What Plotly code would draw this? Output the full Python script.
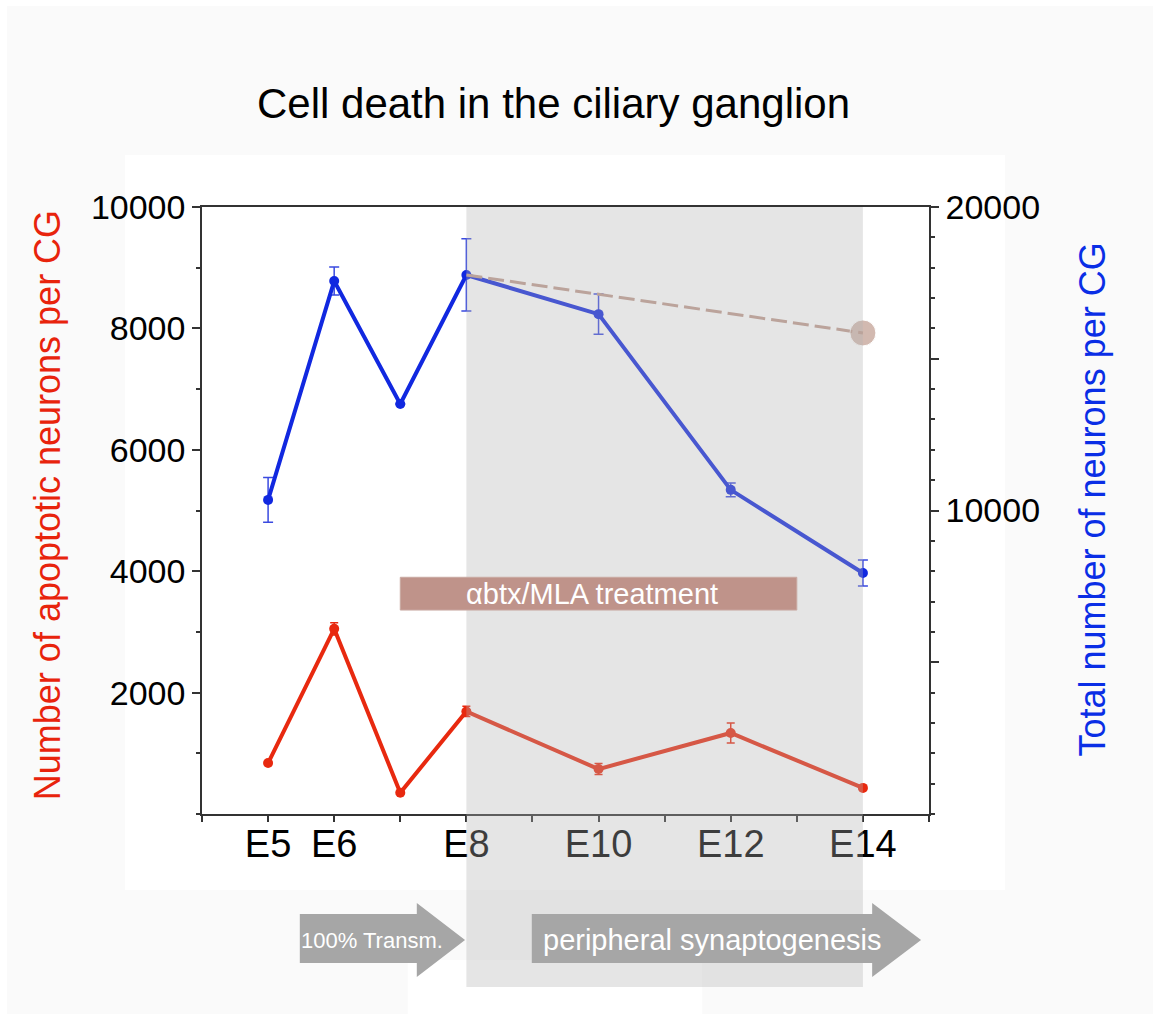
import plotly.graph_objects as go

# ---------------- data ----------------
days = [5, 6, 7, 8, 10, 12, 14]
apoptotic = [840, 3050, 350, 1690, 740, 1335, 430]
apoptotic_err = [0, 100, 0, 85, 90, 165, 0]
total_neurons = [10350, 17560, 13510, 17760, 16470, 10680, 7940]
total_err = [740, 460, 0, 1190, 660, 230, 430]
proj_days = [8, 14]
proj_total = [17760, 15850]

xtick_vals = [5, 6, 8, 10, 12, 14]
xtick_text = ["E5", "E6", "E8", "E10", "E12", "E14"]
y_left_ticks = [2000, 4000, 6000, 8000, 10000]
y_left_text = ["2000", "4000", "6000", "8000", "10000"]
y_right_ticks = [5000, 10000, 15000, 20000]
y_right_text = ["", "10000", "", "20000"]

treat_start, treat_end = 7, 13
treat_low, treat_high = 3360, 3900
shade_start, shade_end = 8, 14

FONT = "Liberation Sans, Arial, Helvetica, sans-serif"
RED = "#e8290f"
BLUE = "#1128e0"
BROWN = "#bf9c8f"
AX = "#333333"

fig = go.Figure()

fig.add_trace(go.Scatter(
    x=days, y=apoptotic, mode="lines+markers", yaxis="y",
    line=dict(color=RED, width=4), marker=dict(color=RED, size=10),
    error_y=dict(type="data", array=apoptotic_err, color=RED, thickness=1.5, width=4),
    showlegend=False))

fig.add_trace(go.Scatter(
    x=days, y=total_neurons, mode="lines+markers", yaxis="y2",
    line=dict(color=BLUE, width=4), marker=dict(color=BLUE, size=10),
    error_y=dict(type="data", array=total_err, color="#3a4ae0", thickness=1.5, width=5),
    showlegend=False))

fig.add_trace(go.Scatter(
    x=proj_days, y=proj_total, mode="lines+markers", yaxis="y2",
    line=dict(color=BROWN, width=3, dash="16px,6px"),
    marker=dict(color=BROWN, size=[0, 26]),
    showlegend=False))

shapes = [
    # white page border strips
    dict(type="rect", xref="paper", yref="paper", x0=-0.30, x1=-0.268, y0=-0.4, y1=1.4,
         fillcolor="white", line_width=0, layer="below"),
    dict(type="rect", xref="paper", yref="paper", x0=-0.30, x1=1.4, y0=1.331, y1=1.4,
         fillcolor="white", line_width=0, layer="below"),
    # white panel behind chart
    dict(type="rect", xref="paper", yref="paper", x0=-0.106, x1=1.1045, y0=-0.125, y1=1.0857,
         fillcolor="white", line_width=0, layer="below"),
    dict(type="rect", xref="paper", yref="paper", x0=0.283, x1=0.688, y0=-0.34, y1=-0.2405,
         fillcolor="white", line_width=0, layer="below"),
    # grey shaded period (drawn on top, translucent)
    dict(type="rect", xref="x", yref="paper", x0=shade_start, x1=shade_end, y0=-0.285, y1=1.0,
         fillcolor="rgba(178,178,178,0.34)", line_width=0, layer="above"),
    # treatment bar
    dict(type="rect", xref="x", yref="y", x0=treat_start, x1=treat_end, y0=treat_low, y1=treat_high,
         fillcolor="#bf938a", line=dict(color="#c9a9a2", width=1), layer="above"),
    # arrows
    dict(type="path", xref="x", yref="paper", layer="above", fillcolor="#a6a6a6", line_width=0,
         path="M 5.48,-0.1647 L 7.25,-0.1647 L 7.25,-0.1466 L 7.98,-0.2076 L 7.25,-0.2685 "
              "L 7.25,-0.2455 L 5.48,-0.2455 Z"),
    dict(type="path", xref="x", yref="paper", layer="above", fillcolor="#a6a6a6", line_width=0,
         path="M 8.99,-0.1647 L 14.14,-0.1647 L 14.14,-0.1466 L 14.88,-0.2076 L 14.14,-0.2685 "
              "L 14.14,-0.2455 L 8.99,-0.2455 Z"),
]


def ann(**kw):
    d = dict(showarrow=False, xanchor="center", yanchor="middle")
    d.update(kw)
    return d


annotations = [
    ann(text="Cell death in the ciliary ganglion", xref="paper", yref="paper", x=0.484, y=1.171,
        font=dict(family=FONT, size=42, color="black")),
    ann(text="Number of apoptotic neurons per CG", xref="paper", yref="paper", x=-0.213, y=0.509,
        textangle=-90, font=dict(family=FONT, size=36, color="#e8230c")),
    ann(text="Total number of neurons per CG", xref="paper", yref="paper", x=1.2256, y=0.518,
        textangle=-90, font=dict(family=FONT, size=36, color="#0a2ee6")),
    ann(text="\u03b1btx/MLA treatment", xref="x", yref="y", x=9.9,
        y=(treat_low + treat_high) / 2, font=dict(family=FONT, size=29, color="white")),
    ann(text="100% Transm.", xref="x", yref="paper", x=6.57, y=-0.2076,
        font=dict(family=FONT, size=22, color="white")),
    ann(text="peripheral synaptogenesis", xref="x", yref="paper", x=11.73, y=-0.2076,
        font=dict(family=FONT, size=29, color="white")),
]

fig.update_layout(
    width=1153, height=1014,
    margin=dict(l=202, r=224, t=207, b=200),
    paper_bgcolor="#fafafa", plot_bgcolor="white",
    font=dict(family=FONT, color="black"),
    shapes=shapes, annotations=annotations,
    xaxis=dict(range=[4, 15], showgrid=False, zeroline=False,
               showline=True, linecolor=AX, linewidth=1.5, mirror=True,
               tickmode="array", tickvals=xtick_vals, ticktext=xtick_text,
               ticks="outside", ticklen=6, tickwidth=1.5, tickcolor=AX,
               ticklabelstandoff=-10,
               tickfont=dict(family=FONT, size=38, color="black"),
               minor=dict(tickmode="linear", tick0=4, dtick=1, ticks="outside",
                          ticklen=6, tickwidth=1.5, tickcolor=AX)),
    yaxis=dict(range=[0, 10000], showgrid=False, zeroline=False,
               showline=True, linecolor=AX, linewidth=1.5,
               tickmode="array", tickvals=y_left_ticks, ticktext=y_left_text,
               ticks="outside", ticklen=8, tickwidth=1.5, tickcolor=AX,
               tickfont=dict(family=FONT, size=34, color="black"),
               minor=dict(tickmode="linear", tick0=0, dtick=1000, ticks="outside",
                          ticklen=4, tickwidth=1.5, tickcolor=AX)),
    yaxis2=dict(range=[0, 20000], overlaying="y", side="right", showgrid=False, zeroline=False,
                showline=True, linecolor=AX, linewidth=1.5,
                tickmode="array", tickvals=y_right_ticks, ticktext=y_right_text,
                ticks="outside", ticklen=8, tickwidth=1.5, tickcolor=AX,
                tickfont=dict(family=FONT, size=34, color="black"),
                minor=dict(tickmode="linear", tick0=0, dtick=1000, ticks="outside",
                           ticklen=4, tickwidth=1.5, tickcolor=AX)),
)

fig.write_html("out.html", config={"displayModeBar": False},
               post_script="document.body.style.margin='0';")
